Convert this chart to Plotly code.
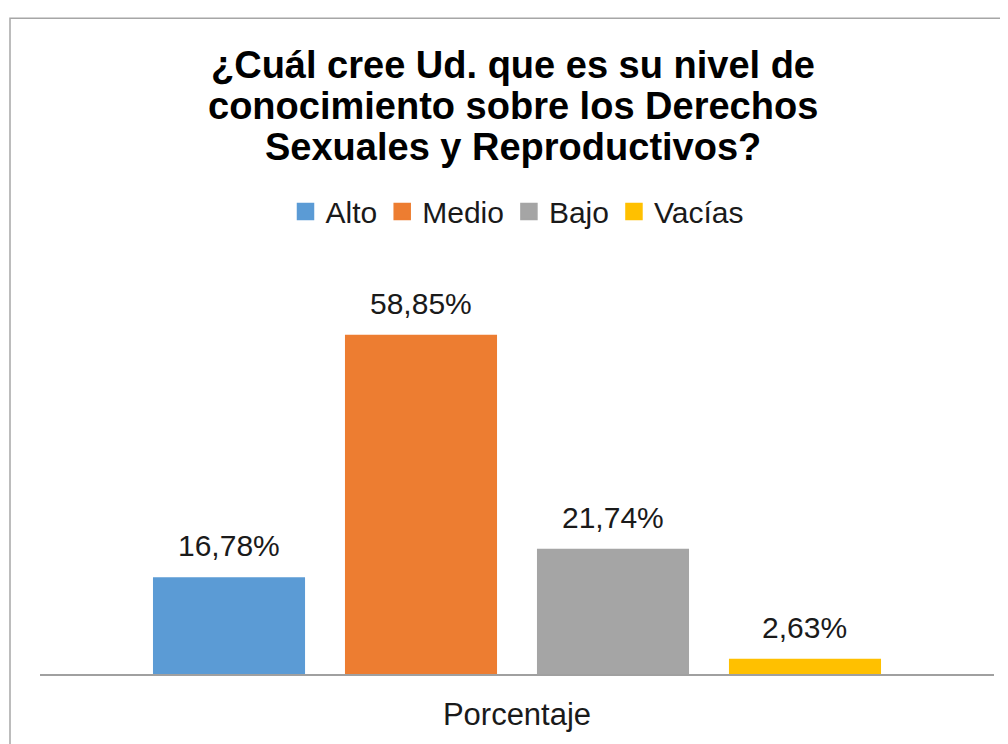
import plotly.graph_objects as go

categories = ["Porcentaje"]
series_names = ["Alto", "Medio", "Bajo", "Vacías"]
series_values = [16.78, 58.85, 21.74, 2.63]
value_labels = ["16,78%", "58,85%", "21,74%", "2,63%"]
colors = ["#5B9BD5", "#ED7D31", "#A5A5A5", "#FFC000"]

title_lines = ["¿Cuál cree Ud. que es su nivel de",
               "conocimiento sobre los Derechos",
               "Sexuales y Reproductivos?"]

FONT = "Liberation Sans, Arial, sans-serif"
BARGAP = 0.195
GROUPGAP = 0.208

# figure geometry (page is drawn with an 8px body margin)
W, H = 1000, 736
ML, MR, MT, MB = 32, 14, 244, 64
PH = H - MT - MB  # plot height in px
PX_PER_UNIT = 5.845

fig = go.Figure()
for name, val, col in zip(series_names, series_values, colors):
    fig.add_trace(go.Bar(x=categories, y=[val], name=name, marker=dict(color=col, line=dict(width=0)),
                         showlegend=False, hoverinfo="skip"))
# legend entries with larger square symbols
for name, col in zip(series_names, colors):
    fig.add_trace(go.Scatter(x=[None], y=[None], mode="markers", name=name,
                             marker=dict(symbol="square", size=16, color=col,
                                         line=dict(color=col, width=1.5))))

n = len(series_values)
slot = (1 - BARGAP) / n
annotations = []
for i, (val, lab) in enumerate(zip(series_values, value_labels)):
    xpos = 0 + (i - (n - 1) / 2) * slot
    annotations.append(dict(x=xpos, y=val, xref="x", yref="y", text=lab, showarrow=False,
                            yanchor="bottom", yshift=13,
                            font=dict(family=FONT, size=30, color="#1a1a1a")))

# title lines (cap-centres in px from top of figure)
title_centres = [54, 96, 138]
for line, yc in zip(title_lines, title_centres):
    annotations.append(dict(x=(513 - 8 - ML) / (W - ML - MR), xref="paper", xanchor="center",
                            y=(H - MB - yc) / PH, yref="paper", yanchor="middle",
                            text="<b>" + line + "</b>", showarrow=False,
                            font=dict(family=FONT, size=38, color="#000000")))

fig.update_layout(
    width=W, height=H,
    margin=dict(l=ML, r=MR, t=MT, b=MB),
    paper_bgcolor="white", plot_bgcolor="white",
    barmode="group", bargap=BARGAP, bargroupgap=GROUPGAP,
    legend=dict(orientation="h", x=0.5, xanchor="center", y=(H - MB - 203) / PH, yanchor="middle",
                font=dict(family=FONT, size=30, color="#1a1a1a"), itemwidth=30,
                bgcolor="rgba(0,0,0,0)"),
    xaxis=dict(showline=True, linecolor="#a0a0a0", linewidth=1.5, showgrid=False, ticks="",
               ticklabelstandoff=12,
               tickfont=dict(family=FONT, size=31, color="#1a1a1a"), fixedrange=True),
    yaxis=dict(range=[0, PH / PX_PER_UNIT], visible=False, showgrid=False, zeroline=False),
    annotations=annotations,
    shapes=[dict(type="rect", xref="paper", yref="paper",
                 x0=(2 - ML) / (W - ML - MR), x1=1.1, y0=-0.3, y1=(H - MB - 7) / PH,
                 line=dict(color="#a6a6a6", width=1.5), fillcolor="rgba(0,0,0,0)", layer="below")],
)

fig.write_html("out.html")
